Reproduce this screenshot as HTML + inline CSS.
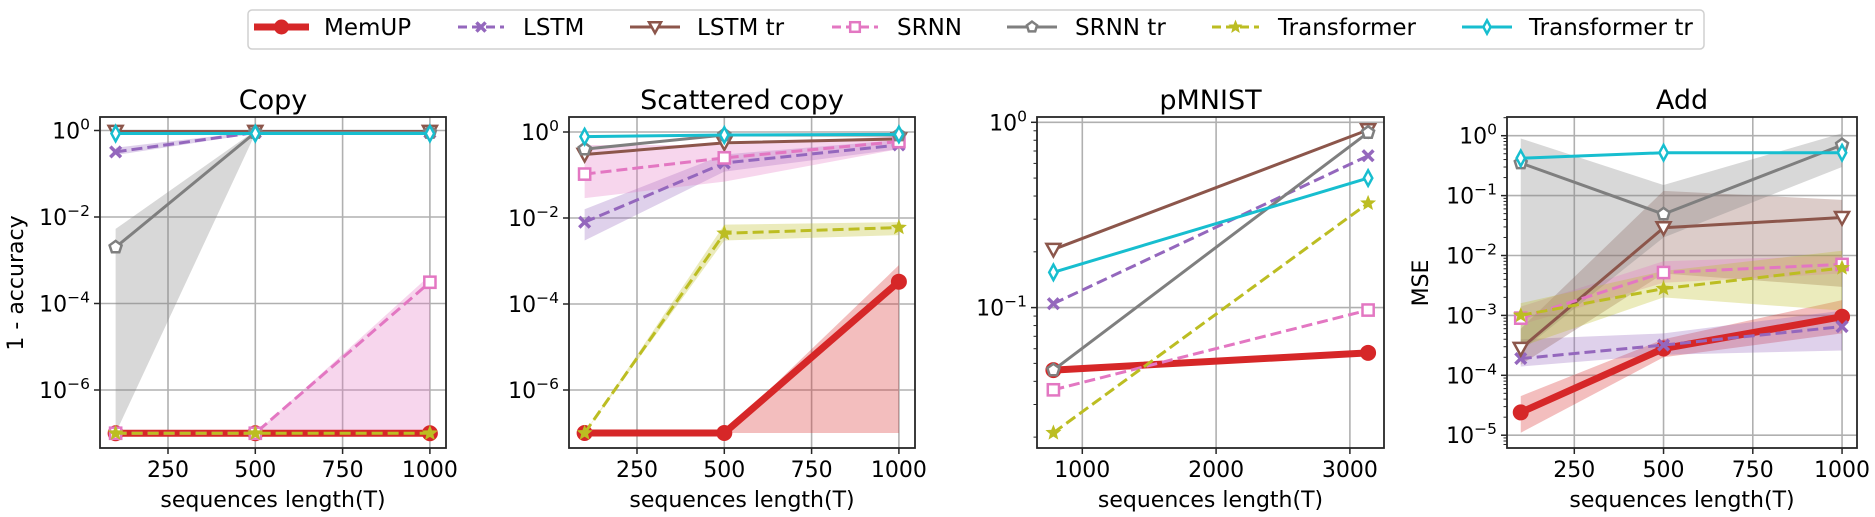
<!DOCTYPE html>
<html><head><meta charset="utf-8"><style>
html,body{margin:0;padding:0;background:#fff;}
svg{display:block;font-family:"DejaVu Sans","Liberation Sans",sans-serif;}
</style></head><body>
<svg id="fig" width="1875" height="517" viewBox="0 0 1875 517" xmlns="http://www.w3.org/2000/svg"></svg>
<script>
// ---- data ----
const seriesNames = ["MemUP","LSTM","LSTM tr","SRNN","SRNN tr","Transformer","Transformer tr"];
const copyT = [100,500,1000];
const copyMemUP = [1e-7,1e-7,1e-7];
const copyLSTM = [0.32,0.9,0.9];
const copyLSTMtr = [0.95,0.95,0.95];
const copySRNN = [1e-7,1e-7,3.1e-4];
const copySRNNtr = [2e-3,0.9,0.9];
const copyTransformer = [1e-7,1e-7,1e-7];
const copyTransformerTr = [0.85,0.85,0.85];
const copyLSTMLo=[0.27,0.85,0.85], copyLSTMHi=[0.4,0.95,0.95];
const copySRNNLo=[1e-7,1e-7,1e-7], copySRNNHi=[1e-7,1e-7,4.5e-4];
const copySRNNtrLo=[1e-7,0.85,0.85], copySRNNtrHi=[5.3e-3,1,1];

const scT = [100,500,1000];
const scMemUP = [1e-7,1e-7,3.3e-4];
const scLSTM = [8e-3,0.19,0.5];
const scLSTMtr = [0.3,0.56,0.69];
const scSRNN = [0.105,0.25,0.6];
const scSRNNtr = [0.4,0.85,0.85];
const scTransformer = [1e-7,4.4e-3,6e-3];
const scTransformerTr = [0.78,0.85,0.88];
const scMemUPLo=[1e-7,1e-7,1e-7], scMemUPHi=[1e-7,1e-7,8e-4];
const scLSTMLo=[3e-3,0.12,0.4], scLSTMHi=[1.6e-2,0.3,0.65];
const scSRNNLo=[0.029,0.07,0.4], scSRNNHi=[0.5,0.5,0.8];
const scTransLo=[1e-7,3e-3,4e-3], scTransHi=[1e-7,7e-3,8e-3];

const pmT = [784,3136];
const pmMemUP = [0.046,0.057];
const pmLSTM = [0.105,0.66];
const pmLSTMtr = [0.206,0.91];
const pmSRNN = [0.036,0.097];
const pmSRNNtr = [0.046,0.88];
const pmTransformer = [0.0211,0.366];
const pmTransformerTr = [0.155,0.5];

const addT = [100,500,1000];
const addMemUP = [2.4e-5,2.8e-4,9.5e-4];
const addLSTM = [1.9e-4,3.2e-4,6.5e-4];
const addLSTMtr = [2.8e-4,0.029,0.043];
const addSRNN = [9e-4,5.2e-3,7.1e-3];
const addSRNNtr = [0.35,0.049,0.7];
const addTransformer = [1e-3,2.8e-3,6.2e-3];
const addTransformerTr = [0.42,0.52,0.52];
const addMemUPLo=[1.1e-5,2e-4,5e-4], addMemUPHi=[4.5e-5,4e-4,1.8e-3];
const addLSTMLo=[1.4e-4,2.2e-4,2.6e-4], addLSTMHi=[4e-4,5e-4,1.2e-3];
const addLSTMtrLo=[1.5e-4,5e-3,3e-3], addLSTMtrHi=[6e-4,0.12,0.085];
const addSRNNLo=[7e-4,3.5e-3,5e-3], addSRNNHi=[1.4e-3,8e-3,1e-2];
const addSRNNtrLo=[2.5e-4,0.02,0.3], addSRNNtrHi=[0.9,0.15,1.1];
const addTransLo=[3e-4,2e-3,1.2e-3], addTransHi=[1.6e-3,5.5e-3,1.2e-2];

const copyXTicks=[250,500,750,1000], copyYTicks=[0,-2,-4,-6];
const pmXTicks=[1000,2000,3000], pmYTicks=[0,-1];
const addYTicks=[0,-1,-2,-3,-4,-5];

// ---- drawing ----
const NS="http://www.w3.org/2000/svg";
const svg=document.getElementById('fig');
const C={red:"#d62728",purple:"#9467bd",brown:"#8c564b",pink:"#e377c2",gray:"#7f7f7f",olive:"#bcbd22",cyan:"#17becf"};
const styles=[
 {c:C.red,w:7,dash:null,m:"o"},{c:C.purple,w:3,dash:"11,5",m:"x"},{c:C.brown,w:3,dash:null,m:"v"},
 {c:C.pink,w:3,dash:"11,5",m:"s"},{c:C.gray,w:3,dash:null,m:"p"},{c:C.olive,w:3,dash:"11,5",m:"*"},{c:C.cyan,w:3,dash:null,m:"d"}];
function el(tag,attrs,parent){const e=document.createElementNS(NS,tag);for(const k in attrs)e.setAttribute(k,attrs[k]);(parent||svg).appendChild(e);return e;}
function marker(g,type,x,y,col,s){
 let e;
 if(type==="o"){e=el('circle',{cx:x,cy:y,r:s*0.5,fill:col,stroke:col,'stroke-width':1},g);}
 else if(type==="x"){const d=s*0.38;e=el('path',{d:`M${x-d},${y-d}L${x+d},${y+d}M${x-d},${y+d}L${x+d},${y-d}`,stroke:col,'stroke-width':3.5,fill:'none'},g);}
 else if(type==="v"){const d=s*0.5;e=el('path',{d:`M${x-d},${y-d*0.8}L${x+d},${y-d*0.8}L${x},${y+d}Z`,stroke:col,'stroke-width':2.5,fill:'#fff'},g);}
 else if(type==="s"){const d=s*0.4;e=el('rect',{x:x-d,y:y-d,width:2*d,height:2*d,stroke:col,'stroke-width':2.5,fill:'#fff'},g);}
 else if(type==="p"){let p=[];for(let i=0;i<5;i++){const a=-Math.PI/2+i*2*Math.PI/5;p.push((x+s*0.45*Math.cos(a)).toFixed(1)+','+(y+s*0.45*Math.sin(a)).toFixed(1));}e=el('polygon',{points:p.join(' '),stroke:col,'stroke-width':2.5,fill:'#fff'},g);}
 else if(type==="*"){let p=[];for(let i=0;i<10;i++){const a=-Math.PI/2+i*Math.PI/5;const r=i%2?s*0.22:s*0.5;p.push((x+r*Math.cos(a)).toFixed(1)+','+(y+r*Math.sin(a)).toFixed(1));}e=el('polygon',{points:p.join(' '),stroke:col,'stroke-width':1,fill:col},g);}
 else if(type==="d"){const w=s*0.3,h=s*0.55;e=el('polygon',{points:`${x},${y-h} ${x+w},${y} ${x},${y+h} ${x-w},${y}`,stroke:col,'stroke-width':2.5,fill:'#fff'},g);}
 
 
}
function tickLabel(g,x,y,exp,anchor){
 const t=el('text',{x:x,y:y,'font-size':22,'text-anchor':anchor,fill:'#000'},g);
 const a=el('tspan',{},t);a.textContent='10';
 const b=el('tspan',{dy:-9,'font-size':15.5},t);b.textContent=(exp<0?'\u2212':'')+Math.abs(exp);
 
 
}
function panel(cfg){
 const g=el('g',{});
 
 
 const X=v=>cfg.x0+(v-cfg.xv0)*cfg.kx;
 const Y=v=>cfg.y0+(-Math.log10(v))*cfg.ky;
 el('defs',{},g).innerHTML=`<clipPath id="clip-${cfg.name}"><rect x="${cfg.L}" y="${cfg.T}" width="${cfg.R-cfg.L}" height="${cfg.B-cfg.T}"/></clipPath>`;
 // grid
 cfg.xt.forEach(v=>{const l=el('line',{x1:X(v),x2:X(v),y1:cfg.T,y2:cfg.B,stroke:'#b0b0b0','stroke-width':1.6},g);});
 cfg.yt.forEach(e=>{const y=Y(Math.pow(10,e));const l=el('line',{x1:cfg.L,x2:cfg.R,y1:y,y2:y,stroke:'#b0b0b0','stroke-width':1.6},g);});
 const plot=el('g',{'clip-path':`url(#clip-${cfg.name})`},g);
 
 
 // bands
 cfg.bands.forEach(b=>{
  const st=styles[b.i];
  let pts=b.lo.map((v,k)=>X(cfg.xs[k])+','+Y(v));
  pts=pts.concat(b.hi.map((v,k)=>X(cfg.xs[k])+','+Y(v)).reverse());
  const p=el('polygon',{points:pts.join(' '),fill:st.c,'fill-opacity':0.3,stroke:'none'},plot);
  
  
 });
 // lines
 cfg.series.forEach((ys,i)=>{
  const st=styles[i];
  const pl=el('polyline',{points:ys.map((v,k)=>X(cfg.xs[k])+','+Y(v)).join(' '),fill:'none',stroke:st.c,'stroke-width':st.w,'stroke-linejoin':'round','stroke-linecap':st.dash?'butt':'round'},plot);
  if(st.dash)pl.setAttribute('stroke-dasharray',st.dash);
  
  
  ys.forEach((v,k)=>marker(plot,st.m,X(cfg.xs[k]),Y(v),st.c,i===0?15:14));
 });
 // frame
 const fr=el('rect',{x:cfg.L,y:cfg.T,width:cfg.R-cfg.L,height:cfg.B-cfg.T,fill:'none',stroke:'#262626','stroke-width':1.8},g);
 
 
 // ticks
 cfg.xt.forEach(v=>{el('line',{x1:X(v),x2:X(v),y1:cfg.B,y2:cfg.B+6,stroke:'#262626','stroke-width':1.5},g);
  const t=el('text',{x:X(v),y:477,'font-size':22,'text-anchor':'middle'},g);t.textContent=v;
  
  });
 cfg.yt.forEach(e=>{const y=Y(Math.pow(10,e));el('line',{x1:cfg.L-6,x2:cfg.L,y1:y,y2:y,stroke:'#262626','stroke-width':1.5},g);tickLabel(g,cfg.L-10,y+8,e,'end');});
 if(cfg.minor){for(let e=cfg.minor[0];e<=cfg.minor[1];e++)for(let m=2;m<=9;m++){const y=Y(m*Math.pow(10,e));if(y>cfg.T&&y<cfg.B)el('line',{x1:cfg.L-3.5,x2:cfg.L,y1:y,y2:y,stroke:'#262626','stroke-width':1},g);}}
 const ti=el('text',{x:(cfg.L+cfg.R)/2,y:109,'font-size':27,'text-anchor':'middle'},g);ti.textContent=cfg.title;
 
 
 const xl=el('text',{x:(cfg.L+cfg.R)/2,y:507,'font-size':22,'text-anchor':'middle'},g);xl.textContent='sequences length(T)';
 
 
 if(cfg.ylabel){const yl=el('text',{x:0,y:0,'font-size':22,'text-anchor':'middle',transform:`translate(${cfg.ylx},283) rotate(-90)`},g);yl.textContent=cfg.ylabel;
  
  }
}
panel({name:'copy-panel',title:'Copy',ylabel:'1 - accuracy',ylx:23,L:100,R:446,T:117,B:448,x0:168,xv0:250,kx:0.3492,y0:130.5,ky:43.25,xs:copyT,xt:copyXTicks,yt:copyYTicks,
 series:[copyMemUP,copyLSTM,copyLSTMtr,copySRNN,copySRNNtr,copyTransformer,copyTransformerTr],
 bands:[{i:1,lo:copyLSTMLo,hi:copyLSTMHi},{i:3,lo:copySRNNLo,hi:copySRNNHi},{i:4,lo:copySRNNtrLo,hi:copySRNNtrHi}]});
panel({name:'scattered-copy-panel',title:'Scattered copy',L:569,R:915,T:117,B:448,x0:637,xv0:250,kx:0.3492,y0:132,ky:43,xs:scT,xt:copyXTicks,yt:copyYTicks,
 series:[scMemUP,scLSTM,scLSTMtr,scSRNN,scSRNNtr,scTransformer,scTransformerTr],
 bands:[{i:0,lo:scMemUPLo,hi:scMemUPHi},{i:1,lo:scLSTMLo,hi:scLSTMHi},{i:3,lo:scSRNNLo,hi:scSRNNHi},{i:5,lo:scTransLo,hi:scTransHi}]});
panel({name:'pmnist-panel',title:'pMNIST',L:1037,R:1384,T:117,B:448,x0:1082.3,xv0:1000,kx:0.1338,y0:122.3,ky:185.3,xs:pmT,xt:pmXTicks,yt:pmYTicks,minor:[-2,-1],
 series:[pmMemUP,pmLSTM,pmLSTMtr,pmSRNN,pmSRNNtr,pmTransformer,pmTransformerTr],bands:[]});
panel({name:'add-panel',title:'Add',ylabel:'MSE',ylx:1428,L:1507,R:1857,T:117,B:448,x0:1574.3,xv0:250,kx:0.357,y0:135.7,ky:59.9,xs:addT,xt:copyXTicks,yt:addYTicks,minor:[-6,0],
 series:[addMemUP,addLSTM,addLSTMtr,addSRNN,addSRNNtr,addTransformer,addTransformerTr],
 bands:[{i:0,lo:addMemUPLo,hi:addMemUPHi},{i:1,lo:addLSTMLo,hi:addLSTMHi},{i:2,lo:addLSTMtrLo,hi:addLSTMtrHi},{i:3,lo:addSRNNLo,hi:addSRNNHi},{i:4,lo:addSRNNtrLo,hi:addSRNNtrHi},{i:5,lo:addTransLo,hi:addTransHi}]});
// legend
const lg=el('g',{});


el('rect',{x:248,y:10,width:1456,height:39,rx:4,fill:'#fff',stroke:'#d0d0d0','stroke-width':1.5},lg);
const legX=[[254,309,324],[458,504,523],[630,680,697],[832,878,897],[1007,1057,1075],[1212,1259,1278],[1462,1512,1529]];
seriesNames.forEach((n,i)=>{
 const st=styles[i],[a,b,t]=legX[i];
 const e=el('g',{},lg);
 
 
 const l=el('line',{x1:a,x2:b,y1:27,y2:27,stroke:st.c,'stroke-width':st.w},e);
 if(st.dash)l.setAttribute('stroke-dasharray','9,5');
 marker(e,st.m,(a+b)/2,27,st.c,i===0?14:12);
 const tx=el('text',{x:t,y:35,'font-size':23},e);tx.textContent=n;
});
</script>
</body></html>
